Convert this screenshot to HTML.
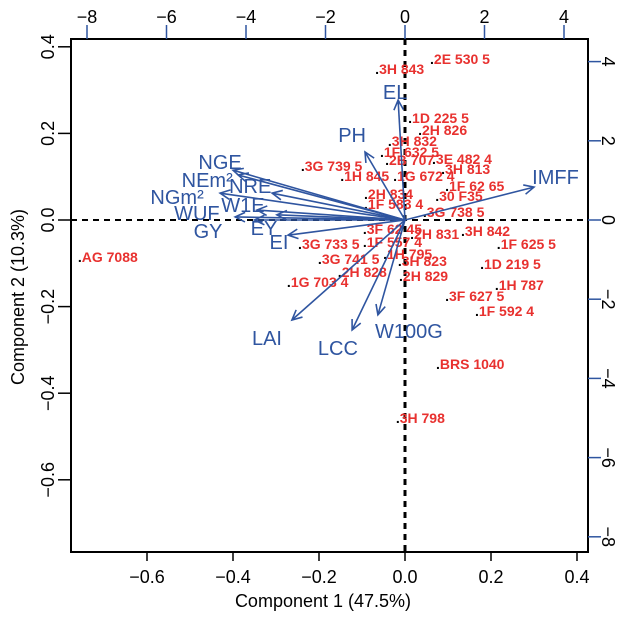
<!DOCTYPE html>
<html><head><meta charset="utf-8"><style>
body{margin:0;background:#fff}
svg{display:block;font-family:"Liberation Sans",Arial,sans-serif}
</style></head><body>
<svg id="c" width="631" height="617"></svg>
<script>
// sample scores (component scores, top/right axis units)
const sampleNames=["2E 530 5","3H 843","1D 225 5","2H 826","3H 832","1F 632 5","2B 707","3E 482 4","3G 739 5","3H 813","1H 845","1G 672 4","1F 62 65","2H 834","30 F35","1F 583 4","3G 738 5","3F 62 45","2H 831","3H 842","3G 733 5","1F 557 4","1F 625 5","3G 741 5","1H 795","3H 823","1D 219 5","2H 828","2H 829","1G 703 4","1H 787","3F 627 5","1F 592 4","AG 7088","BRS 1040","3H 798"];
const scoreX=[0.68,-0.70,0.13,0.38,-0.38,-0.58,-0.45,0.73,-2.57,0.96,-1.58,-0.25,1.06,-0.98,0.81,-0.98,0.50,-1.01,0.18,1.46,-2.64,-1.01,2.36,-2.14,-0.50,-0.13,1.94,-1.64,-0.10,-2.92,2.31,1.06,1.81,-8.18,0.83,-0.18];
const scoreY=[4.04,3.79,2.55,2.25,1.97,1.69,1.49,1.52,1.34,1.26,1.09,1.09,0.83,0.63,0.58,0.38,0.18,-0.25,-0.38,-0.30,-0.63,-0.58,-0.63,-1.01,-0.88,-1.06,-1.14,-1.34,-1.44,-1.59,-1.67,-1.95,-2.32,-0.96,-3.66,-5.03];
// variable loadings (bottom/left axis units)
const varNames=["EL","PH","IMFF","NGE","NEm²","NRE","NGm²","W1E","WUF","GY","EY","EI","LAI","LCC","W100G"];
const loadX=[-0.016,-0.093,0.30,-0.40,-0.388,-0.309,-0.43,-0.344,-0.395,-0.35,-0.298,-0.272,-0.263,-0.123,-0.063];
const loadY=[0.277,0.157,0.076,0.115,0.104,0.062,0.062,0.023,0.007,0.0,0.012,-0.035,-0.231,-0.254,-0.219];
const labelX=[-0.023,-0.123,0.35,-0.43,-0.46,-0.36,-0.53,-0.377,-0.484,-0.458,-0.328,-0.293,-0.321,-0.156,0.009];
const labelY=[0.296,0.196,0.099,0.134,0.092,0.079,0.053,0.035,0.016,-0.025,-0.018,-0.051,-0.273,-0.296,-0.256];
const bottomTicks=[-0.6,-0.4,-0.2,0.0,0.2,0.4];
const leftTicks=[-0.6,-0.4,-0.2,0.0,0.2,0.4];
const topTicks=[-8,-6,-4,-2,0,2,4];
const rightTicks=[-8,-6,-4,-2,0,2,4];

const L=71,R=588,T=39,B=552;
const lx=v=>405+430*v, ly=v=>220-433*v;
const sx=v=>405+39.75*v, sy=v=>220-39.6*v;
const NS="http://www.w3.org/2000/svg", svg=document.getElementById('c');
const BLUE="#2F55A0", RED="#E8312F";
function mk(tag,a,parent){const e=document.createElementNS(NS,tag);for(const k in a)e.setAttribute(k,a[k]);(parent||svg).appendChild(e);return e;}
const fmt=v=>(v<0?"\u2212":"")+Math.abs(v).toFixed(1);

let e=mk('line',{x1:L,x2:R,y1:ly(0),y2:ly(0),stroke:'#000','stroke-width':2,'stroke-dasharray':'6,5'});


e=mk('line',{x1:lx(0),x2:lx(0),y1:T,y2:B,stroke:'#000','stroke-width':3,'stroke-dasharray':'6,5'});



e=mk('rect',{x:L,y:T,width:R-L,height:B-T,fill:'none',stroke:'#000','stroke-width':2});



bottomTicks.forEach(v=>{
  const x=lx(v);
  mk('line',{x1:x,x2:x,y1:B,y2:B+9,stroke:'#000','stroke-width':1.5});
  const t=mk('text',{x:x,y:B+31,'text-anchor':'middle','font-size':18});t.textContent=fmt(v);
  
  
});
leftTicks.forEach(v=>{
  const y=ly(v);
  mk('line',{x1:L-13,x2:L,y1:y,y2:y,stroke:'#000','stroke-width':1.5});
  const t=mk('text',{x:0,y:0,'text-anchor':'middle','font-size':18,transform:`translate(54,${y}) rotate(-90)`});t.textContent=fmt(v);
  
  
});
topTicks.forEach(v=>{
  const x=sx(v);
  mk('line',{x1:x,x2:x,y1:T-14,y2:T,stroke:BLUE,'stroke-width':1.5});
  const t=mk('text',{x:x,y:T-16,'text-anchor':'middle','font-size':18});t.textContent=(v<0?"\u2212":"")+Math.abs(v);
  
  
});
rightTicks.forEach(v=>{
  const y=sy(v);
  mk('line',{x1:R,x2:R+13,y1:y,y2:y,stroke:BLUE,'stroke-width':1.5});
  const t=mk('text',{x:0,y:0,'text-anchor':'middle','font-size':18,transform:`translate(602,${y}) rotate(90)`});t.textContent=(v<0?"\u2212":"")+Math.abs(v);
  
  
});

e=mk('text',{x:323,y:607,'text-anchor':'middle','font-size':18});e.textContent="Component 1 (47.5%)";


e=mk('text',{x:0,y:0,'text-anchor':'middle','font-size':18,transform:'translate(24,297) rotate(-90)'});e.textContent="Component 2 (10.3%)";



sampleNames.forEach((n,i)=>{
  const t=mk('text',{x:sx(scoreX[i])-2,y:sy(scoreY[i])+4,'font-size':14,'font-weight':'bold',fill:RED});
  const d=document.createElementNS(NS,'tspan');d.setAttribute('fill','#000');d.textContent='.';t.appendChild(d);
  t.appendChild(document.createTextNode(n));
  
  
});

varNames.forEach((n,i)=>{
  const x0=lx(0),y0=ly(0),x1=lx(loadX[i]),y1=ly(loadY[i]);
  const g=mk('g',{stroke:BLUE,'stroke-width':1.6,fill:'none'});
  
  
  mk('line',{x1:x0,y1:y0,x2:x1,y2:y1},g);
  const a=Math.atan2(y1-y0,x1-x0),h=11,s=0.45;
  mk('polyline',{points:`${x1-h*Math.cos(a-s)},${y1-h*Math.sin(a-s)} ${x1},${y1} ${x1-h*Math.cos(a+s)},${y1-h*Math.sin(a+s)}`},g);
  const t=mk('text',{x:lx(labelX[i]),y:ly(labelY[i])+7,'text-anchor':'middle','font-size':20,fill:BLUE});t.textContent=n;
  
  
});
</script>
</body></html>
